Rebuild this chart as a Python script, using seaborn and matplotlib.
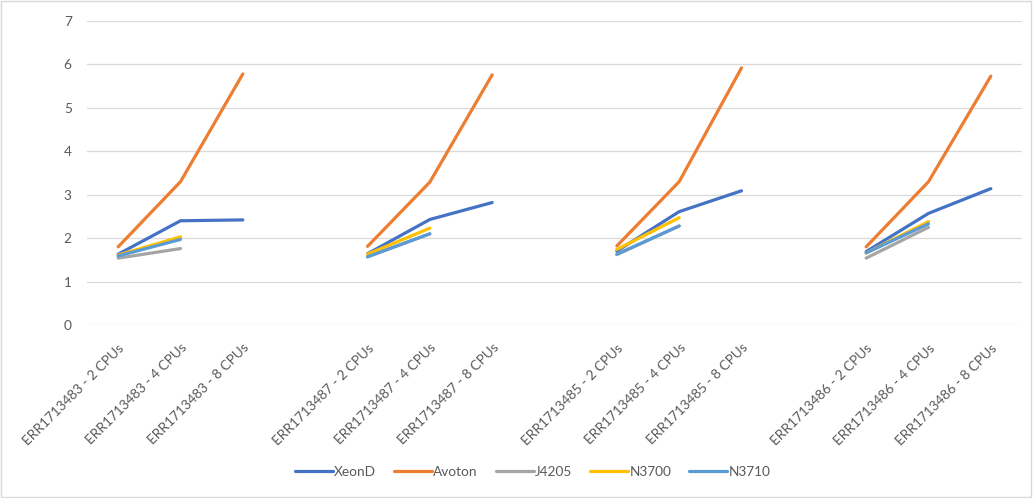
import numpy as np
import pandas as pd
import matplotlib
matplotlib.use("Agg")
import matplotlib.pyplot as plt
from matplotlib.patches import Rectangle
import seaborn as sns

nan = np.nan

# Category axis: four runs, each at 2/4/8 CPUs, separated by an empty slot
categories = [
    "ERR1713483 - 2 CPUs", "ERR1713483 - 4 CPUs", "ERR1713483 - 8 CPUs", "",
    "ERR1713487 - 2 CPUs", "ERR1713487 - 4 CPUs", "ERR1713487 - 8 CPUs", "",
    "ERR1713485 - 2 CPUs", "ERR1713485 - 4 CPUs", "ERR1713485 - 8 CPUs", "",
    "ERR1713486 - 2 CPUs", "ERR1713486 - 4 CPUs", "ERR1713486 - 8 CPUs",
]

xeond  = [1.63, 2.40, 2.42, nan, 1.64, 2.43, 2.82, nan, 1.70, 2.61, 3.09, nan, 1.69, 2.57, 3.14]
avoton = [1.80, 3.30, 5.78, nan, 1.81, 3.29, 5.76, nan, 1.82, 3.30, 5.92, nan, 1.80, 3.30, 5.73]
j4205  = [1.54, 1.76, nan, nan, 1.57, 2.10, nan, nan, 1.62, 2.28, nan, nan, 1.54, 2.25, nan]
n3700  = [1.61, 2.03, nan, nan, 1.63, 2.23, nan, nan, 1.74, 2.47, nan, nan, 1.66, 2.38, nan]
n3710  = [1.59, 1.97, nan, nan, 1.57, 2.10, nan, nan, 1.63, 2.28, nan, nan, 1.66, 2.33, nan]

series_names = ["XeonD", "Avoton", "J4205", "N3700", "N3710"]
series_values = [xeond, avoton, j4205, n3700, n3710]
colors = ["#4472C4", "#ED7D31", "#A5A5A5", "#FFC000", "#5B9BD5"]

y_ticks = [0, 1, 2, 3, 4, 5, 6, 7]

# Long-form table; each run gets its own unit so lines break between runs
rows = []
for name, vals in zip(series_names, series_values):
    for i, v in enumerate(vals):
        if not np.isnan(v):
            rows.append({"pos": i, "value": v, "series": name, "run": i // 4})
df = pd.DataFrame(rows)

sns.set_theme(style="white")
plt.rcParams["font.family"] = ["Lato", "DejaVu Sans"]

fig = plt.figure(figsize=(10.34, 4.98), dpi=100)
ax = fig.add_axes([87 / 1034, 1 - 325 / 498, (1022 - 87) / 1034, (325 - 21) / 498])

sns.lineplot(
    data=df, x="pos", y="value", hue="series", units="run", estimator=None,
    hue_order=series_names, palette=colors, linewidth=2.3, ax=ax,
    legend=True, sort=False,
)

ax.set_xlim(-0.5, len(categories) - 0.5)
ax.set_ylim(0, 7)
ax.set_yticks(y_ticks)
ax.set_yticklabels([str(t) for t in y_ticks], fontsize=9.8, color="#595959")
tick_pos = [i for i, c in enumerate(categories) if c]
ax.set_xticks(tick_pos)
ax.set_xticklabels([categories[i] for i in tick_pos], rotation=45, ha="right",
                   va="top", rotation_mode="anchor", fontsize=9.8, color="#595959")
ax.tick_params(axis="x", length=0, pad=12)
ax.tick_params(axis="y", length=0, pad=11)
ax.set_xlabel("")
ax.set_ylabel("")

ax.yaxis.grid(True, color="#D9D9D9", linewidth=0.9)
ax.xaxis.grid(False)
ax.set_axisbelow(True)
for side in ["top", "right", "left", "bottom"]:
    ax.spines[side].set_visible(False)

handles, labels = ax.get_legend_handles_labels()
ax.legend_.remove()
for h in handles:
    h.set_linewidth(2.3)
fig.legend(handles, labels, loc="center", bbox_to_anchor=(0.515, 0.052), ncol=5,
           frameon=False, fontsize=9.8, handlelength=2.8, handletextpad=0.1,
           columnspacing=1.3, labelcolor="#595959")

fig.patches.append(Rectangle((0.001, 0.003), 0.996, 0.994, transform=fig.transFigure,
                             fill=False, edgecolor="#D9D9D9", linewidth=1.0))

fig.savefig("out.png", dpi=100, facecolor="white")
